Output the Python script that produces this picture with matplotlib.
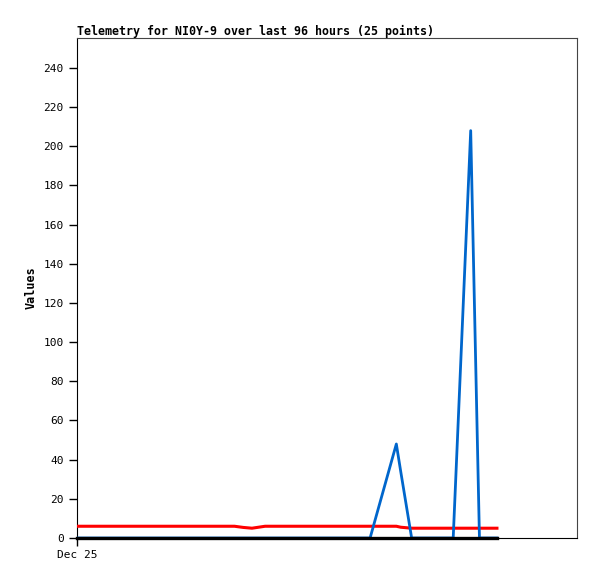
"""
Telemetry chart for NI0Y-9, last 96 hours (25 points)
"""

import matplotlib
matplotlib.use("Agg")
import matplotlib.pyplot as plt

# hours since Dec 25 00:00
hours = [0, 4, 8, 12, 16, 20, 24, 28, 32, 36, 38, 40, 43, 48, 56, 64, 67,
         73, 74, 76.5, 86, 90, 92, 94, 96]
blue_vals = [0, 0, 0, 0, 0, 0, 0, 0, 0, 0, 0, 0, 0, 0, 0, 0, 0,
             48, 34, 0, 0, 208, 0, 0, 0]
red_vals = [6, 6, 6, 6, 6, 6, 6, 6, 6, 6, 5.4, 5, 6, 6, 6, 6, 6,
            6, 5.5, 5, 5, 5, 5, 5, 5]
black_vals = [0] * 25

y_ticks = list(range(0, 241, 20))
x_tick_label = "Dec 25"
title = "Telemetry for NI0Y-9 over last 96 hours (25 points)"

plt.rcParams['font.family'] = ['DejaVu Sans Mono']

fig = plt.figure(figsize=(5.97, 5.79), dpi=100)
ax = fig.add_axes([77 / 597, 41 / 579, 500 / 597, 500 / 579])

ax.plot(hours, red_vals, color='#ff0000', lw=2.2, zorder=3)
ax.plot(hours, blue_vals, color='#0066cc', lw=2.0, zorder=4)
ax.plot(hours, black_vals, color='black', lw=2.4, zorder=5, clip_on=False)

ax.set_xlim(0, 114.3)
ax.set_ylim(0, 255.3)
ax.set_yticks(y_ticks)
ax.set_yticklabels([str(v) for v in y_ticks], fontsize=8)
ax.set_xticks([0])
ax.set_xticklabels([x_tick_label], fontsize=8)
ax.tick_params(axis='both', direction='out', length=6, width=1, color='black')
ax.tick_params(axis='x', pad=3)

for side in ['top', 'right']:
    ax.spines[side].set_color('#444444')
for side in ['left', 'bottom']:
    ax.spines[side].set_color('black')

ax.set_ylabel('Values', fontsize=8.5, fontweight='bold', labelpad=4)
ax.set_title(title, fontsize=8.4, fontweight='bold', loc='left', pad=2)

plt.savefig('out.png', dpi=100)
plt.close()
